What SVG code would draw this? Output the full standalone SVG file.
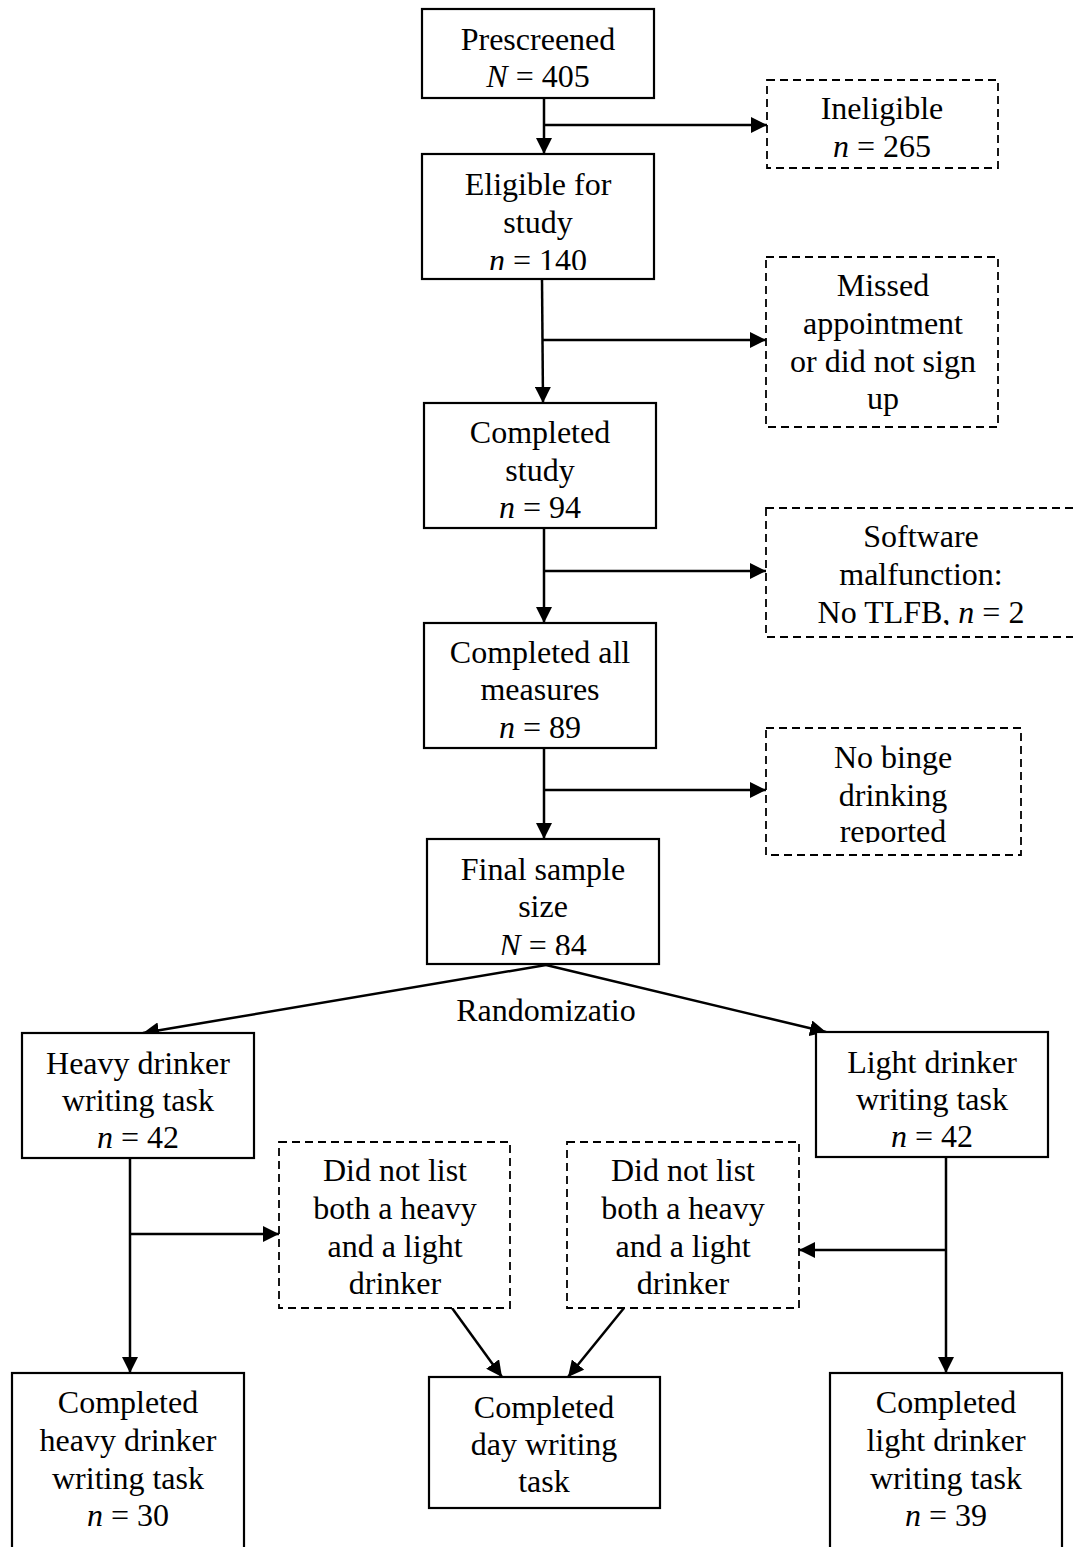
<svg xmlns="http://www.w3.org/2000/svg" width="1073" height="1547" viewBox="0 0 1073 1547">
<style>
.box{fill:#fff;stroke:#000;stroke-width:2.2}
.dbox{fill:#fff;stroke:#000;stroke-width:1.8;stroke-dasharray:8 5}
.t{font-family:"Liberation Serif","Times New Roman",serif;font-size:32px;text-anchor:middle;fill:#000}
.i{font-style:italic}
.c{fill:none;stroke:#000;stroke-width:2.5}
</style>
<defs>
<marker id="ah" markerUnits="userSpaceOnUse" markerWidth="16" markerHeight="16" refX="16" refY="8" orient="auto">
<path d="M0,0 L16,8 L0,16 z" fill="#000"/>
</marker>
<clipPath id="clElig"><rect x="422" y="154" width="232" height="116"/></clipPath>
<clipPath id="clSoft"><rect x="766" y="508" width="310" height="117"/></clipPath>
<clipPath id="clMeas"><rect x="424" y="623" width="232" height="116"/></clipPath>
<clipPath id="clBinge"><rect x="766" y="728" width="255" height="115"/></clipPath>
<clipPath id="clFinal"><rect x="427" y="839" width="232" height="116"/></clipPath>
</defs>
<rect width="1073" height="1547" fill="#fff"/>

<g id="connectors">
<line class="c" x1="544" y1="98" x2="544" y2="154" marker-end="url(#ah)"/>
<line class="c" x1="544" y1="125" x2="767" y2="125" marker-end="url(#ah)"/>
<line class="c" x1="542" y1="279" x2="543" y2="403" marker-end="url(#ah)"/>
<line class="c" x1="543" y1="340" x2="766" y2="340" marker-end="url(#ah)"/>
<line class="c" x1="544" y1="528" x2="544" y2="623" marker-end="url(#ah)"/>
<line class="c" x1="544" y1="571" x2="766" y2="571" marker-end="url(#ah)"/>
<line class="c" x1="544" y1="748" x2="544" y2="839" marker-end="url(#ah)"/>
<line class="c" x1="544" y1="790" x2="766" y2="790" marker-end="url(#ah)"/>
<line class="c" x1="546" y1="965" x2="143" y2="1033" marker-end="url(#ah)"/>
<line class="c" x1="546" y1="965" x2="826" y2="1032" marker-end="url(#ah)"/>
<line class="c" x1="130" y1="1158" x2="130" y2="1373" marker-end="url(#ah)"/>
<line class="c" x1="130" y1="1234" x2="279" y2="1234" marker-end="url(#ah)"/>
<line class="c" x1="946" y1="1157" x2="946" y2="1373" marker-end="url(#ah)"/>
<line class="c" x1="946" y1="1250" x2="799" y2="1250" marker-end="url(#ah)"/>
<line class="c" x1="452" y1="1308" x2="502" y2="1377" marker-end="url(#ah)"/>
<line class="c" x1="624" y1="1308" x2="568" y2="1377" marker-end="url(#ah)"/>
<text class="t" x="546" y="1021">Randomizatio</text>
</g>

<g id="prescreened">
<rect class="box" x="422" y="9" width="232" height="89"/>
<text class="t" x="538" y="50">Prescreened</text>
<text class="t" x="538" y="87"><tspan class="i">N</tspan> = 405</text>
</g>

<g id="ineligible">
<rect class="dbox" x="767" y="80" width="231" height="88"/>
<text class="t" x="882" y="119">Ineligible</text>
<text class="t" x="882" y="157"><tspan class="i">n</tspan> = 265</text>
</g>

<g id="eligible">
<rect class="box" x="422" y="154" width="232" height="125"/>
<g clip-path="url(#clElig)">
<text class="t" x="538" y="195">Eligible for</text>
<text class="t" x="538" y="233">study</text>
<text class="t" x="538" y="271"><tspan class="i">n</tspan> = 140</text>
</g>
</g>

<g id="missed">
<rect class="dbox" x="766" y="257" width="232" height="170"/>
<text class="t" x="883" y="296">Missed</text>
<text class="t" x="883" y="334">appointment</text>
<text class="t" x="883" y="372">or did not sign</text>
<text class="t" x="883" y="409">up</text>
</g>

<g id="completed-study">
<rect class="box" x="424" y="403" width="232" height="125"/>
<text class="t" x="540" y="443">Completed</text>
<text class="t" x="540" y="481">study</text>
<text class="t" x="540" y="518"><tspan class="i">n</tspan> = 94</text>
</g>

<g id="software">
<rect class="dbox" x="766" y="508" width="330" height="129"/>
<g clip-path="url(#clSoft)">
<text class="t" x="921" y="547">Software</text>
<text class="t" x="921" y="585">malfunction:</text>
<text class="t" x="921" y="623">No TLFB, <tspan class="i">n</tspan> = 2</text>
</g>
</g>

<g id="completed-all">
<rect class="box" x="424" y="623" width="232" height="125"/>
<g clip-path="url(#clMeas)">
<text class="t" x="540" y="663">Completed all</text>
<text class="t" x="540" y="700">measures</text>
<text class="t" x="540" y="738"><tspan class="i">n</tspan> = 89</text>
</g>
</g>

<g id="no-binge">
<rect class="dbox" x="766" y="728" width="255" height="127"/>
<g clip-path="url(#clBinge)">
<text class="t" x="893" y="768">No binge</text>
<text class="t" x="893" y="806">drinking</text>
<text class="t" x="893" y="842">reported</text>
</g>
</g>

<g id="final">
<rect class="box" x="427" y="839" width="232" height="125"/>
<g clip-path="url(#clFinal)">
<text class="t" x="543" y="880">Final sample</text>
<text class="t" x="543" y="917">size</text>
<text class="t" x="543" y="956"><tspan class="i">N</tspan> = 84</text>
</g>
</g>

<g id="heavy">
<rect class="box" x="22" y="1033" width="232" height="125"/>
<text class="t" x="138" y="1074">Heavy drinker</text>
<text class="t" x="138" y="1111">writing task</text>
<text class="t" x="138" y="1148"><tspan class="i">n</tspan> = 42</text>
</g>

<g id="light">
<rect class="box" x="816" y="1032" width="232" height="125"/>
<text class="t" x="932" y="1073">Light drinker</text>
<text class="t" x="932" y="1110">writing task</text>
<text class="t" x="932" y="1147"><tspan class="i">n</tspan> = 42</text>
</g>

<g id="notlist-left">
<rect class="dbox" x="279" y="1142" width="231" height="166"/>
<text class="t" x="395" y="1181">Did not list</text>
<text class="t" x="395" y="1219">both a heavy</text>
<text class="t" x="395" y="1257">and a light</text>
<text class="t" x="395" y="1294">drinker</text>
</g>

<g id="notlist-right">
<rect class="dbox" x="567" y="1142" width="232" height="166"/>
<text class="t" x="683" y="1181">Did not list</text>
<text class="t" x="683" y="1219">both a heavy</text>
<text class="t" x="683" y="1257">and a light</text>
<text class="t" x="683" y="1294">drinker</text>
</g>

<g id="completed-heavy">
<rect class="box" x="12" y="1373" width="232" height="200"/>
<text class="t" x="128" y="1413">Completed</text>
<text class="t" x="128" y="1451">heavy drinker</text>
<text class="t" x="128" y="1489">writing task</text>
<text class="t" x="128" y="1526"><tspan class="i">n</tspan> = 30</text>
</g>

<g id="completed-day">
<rect class="box" x="429" y="1377" width="231" height="131"/>
<text class="t" x="544" y="1418">Completed</text>
<text class="t" x="544" y="1455">day writing</text>
<text class="t" x="544" y="1492">task</text>
</g>

<g id="completed-light">
<rect class="box" x="830" y="1373" width="232" height="200"/>
<text class="t" x="946" y="1413">Completed</text>
<text class="t" x="946" y="1451">light drinker</text>
<text class="t" x="946" y="1489">writing task</text>
<text class="t" x="946" y="1526"><tspan class="i">n</tspan> = 39</text>
</g>
</svg>
